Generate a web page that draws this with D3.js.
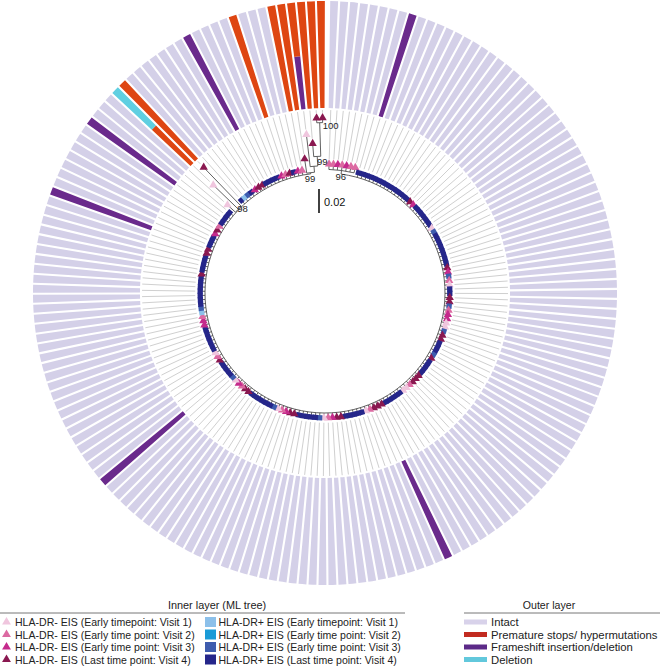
<!DOCTYPE html>
<html><head><meta charset="utf-8">
<script src="https://cdn.jsdelivr.net/npm/d3@7"></script>
<style>body{margin:0;background:#fff}svg{display:block}</style>
</head><body>
<svg id="chart" width="666" height="669"></svg>
<script>
// ---------- DATA ----------
const categoryKeys = ["a","b","c","d","e","f","g","h"];
const categoryLabels = [
  "HLA-DR- EIS (Early timepoint: Visit 1)",
  "HLA-DR- EIS (Early time point: Visit 2)",
  "HLA-DR- EIS (Early time point: Visit 3)",
  "HLA-DR- EIS (Last time point: Visit 4)",
  "HLA-DR+ EIS (Early timepoint: Visit 1)",
  "HLA-DR+ EIS (Early time point: Visit 2)",
  "HLA-DR+ EIS (Early time point: Visit 3)",
  "HLA-DR+ EIS (Last time point: Visit 4)"
];
const categoryColors = ["#f0c6de","#dc6aa2","#c52a8c","#8a1850","#8cc0ea","#1a9bd7","#3e5cae","#25268a"];
const categoryShapes = ["triangle","triangle","triangle","triangle","square","square","square","square"];

// one code per leaf, clockwise from the top
const leafTypes =
  "bbcbcbb" + "hhhhhhhhhhhhhh" + "dchhhhhhaghhhhhhhhdcgbahh" +
  "ddgbccaa" + "gddhhhg" + "dhhhhdddb" + "aahhhhhd" + "ddbahhhhh" + "ddcba" +
  "ghhhhhddcb" + "aghhhhhhdd" + "bcaghhhh" + "dbahhhhhh" + "ccbeghhhh" +
  "hhhdhhhhd" + "dhhhc" + "dbhhhh" + "aad" + "heghcddhhhhcbdhcb" + "daddd";

const statusKeys = ["I","P","F","D"];
const statusLabels = ["Intact","Premature stops/ hypermutations","Frameshift insertion/deletion","Deletion"];
const statusColors = ["#d4d0e8","#de4612","#6a2a8c","#5fcfe1"];
const statusLegendColors = ["#d8d2ea","#c22b20","#5c2a88","#62c8dc"];
// [leaf, inner-half status, outer-half status]; every other leaf is Intact
const defects = [
  [8,"F","F"],[78,"F","F"],[116,"F","F"],[147,"F","F"],[155,"F","F"],
  [159,"P","D"],[160,"P","P"],[168,"F","F"],[173,"P","P"],
  [177,"P","P"],[178,"P","P"],[179,"F","P"],[180,"P","P"],[181,"P","P"],[182,"P","P"]
];

const defaultTipLength = 0.004;
// supported clades: kids are [leaf, branchLength] or nested clades
const clades = [
  { support: "96", len: 0.003, kids: [[0,0.0045],[1,0.0045],[2,0.0045],[3,0.0045],[4,0.0045],[5,0.0045],[6,0.0045]] },
  { support: "98", len: 0.0005, kids: [[158,0.009],[159,0.029],[160,0.045]] },
  { support: "99", len: 0.001, kids: [[178,0.012],
      { support: "99", len: 0.005, kids: [[179,0.027],
          { support: "", len: 0.008, kids: [[180,0.011],
              { support: "100", len: 0.028, kids: [[181,0.004],[182,0.004]] }] }] }] }
];
const scaleBarValue = 0.02;
const scaleBarLabel = "0.02";
const innerLegendTitle = "Inner layer (ML tree)";
const outerLegendTitle = "Outer layer";

// ---------- LAYOUT ----------
const N = leafTypes.length;
const cx = 325, cy = 293;
const rBackbone = 120, ringIn = 185, ringOut = 292, ringSplit = 238;
const deg = Math.PI / 180;
const svg = d3.select("#chart");
const g = svg.append("g").attr("transform", `translate(${cx},${cy})`);

const angle = d3.scaleBand().domain(d3.range(N)).range([0.82 * deg, 360.18 * deg]).padding(0);
const bw = angle.bandwidth();
const leafAngle = i => angle(i) + bw / 2;
const lenScale = d3.scaleLinear().domain([0, scaleBarValue]).range([0, 24]);

// ---------- OUTER RING ----------
const defectMap = new Map(defects.map(d => [d[0], d]));
const ringData = [];
for (let i = 0; i < N; i++) {
  const d = defectMap.get(i);
  const inner = d ? d[1] : "I", outer = d ? d[2] : "I";
  if (inner === outer) ringData.push({ i, r0: ringIn, r1: ringOut, s: inner });
  else {
    ringData.push({ i, r0: ringIn, r1: ringSplit, s: inner });
    ringData.push({ i, r0: ringSplit, r1: ringOut, s: outer });
  }
}
const statusColor = d3.scaleOrdinal().domain(statusKeys).range(statusColors);
const ringArc = d3.arc()
  .innerRadius(d => d.r0).outerRadius(d => d.r1)
  .startAngle(d => angle(d.i)).endAngle(d => angle(d.i) + bw)
  .padAngle(0.021).padRadius(100);
g.append("g").selectAll("path").data(ringData).join("path")
  .attr("d", ringArc).attr("fill", d => statusColor(d.s));

// ---------- TREE ----------
function cladeNode(c) {
  return { support: c.support, len: c.len,
    children: c.kids.map(k => Array.isArray(k) ? { leaf: k[0], len: k[1] } : cladeNode(k)) };
}
function members(c, out) { c.kids.forEach(k => Array.isArray(k) ? out.push(k[0]) : members(k, out)); return out; }
const owner = new Map();
clades.forEach(c => { const m = members(c, []); c.first = d3.min(m); m.forEach(i => owner.set(i, c)); });
const rootChildren = [];
for (let i = 0; i < N; i++) {
  const c = owner.get(i);
  if (!c) rootChildren.push({ leaf: i, len: defaultTipLength });
  else if (c.first === i) rootChildren.push(cladeNode(c));
}
const root = d3.hierarchy({ len: 0, children: rootChildren });
root.eachBefore(d => { d.dist = d.parent ? d.parent.dist + d.data.len : 0; d.r = rBackbone + lenScale(d.dist); });
root.eachAfter(d => { d.a = d.children ? d3.mean(d.children, c => c.a) : leafAngle(d.data.leaf); });

const pr = (a, r) => d3.pointRadial(a, r);
const treePath = d3.path();
root.each(d => {
  if (d.parent) {
    const p0 = pr(d.a, d.parent.r), p1 = pr(d.a, d.r);
    treePath.moveTo(p0[0], p0[1]); treePath.lineTo(p1[0], p1[1]);
  }
  if (d.children) {
    const a0 = d3.min(d.children, c => c.a), a1 = d3.max(d.children, c => c.a);
    const s = pr(a0, d.r);
    treePath.moveTo(s[0], s[1]);
    treePath.arc(0, 0, d.r, a0 - Math.PI / 2, a1 - Math.PI / 2);
  }
});

// leader lines
const leaves = root.leaves();
g.append("g").selectAll("line").data(leaves).join("line")
  .attr("x1", d => pr(d.a, d.r + 5)[0]).attr("y1", d => pr(d.a, d.r + 5)[1])
  .attr("x2", d => pr(d.a, ringIn - 2)[0]).attr("y2", d => pr(d.a, ringIn - 2)[1])
  .attr("stroke", "#d0d0d0").attr("stroke-width", 1);

g.append("path").attr("d", treePath.toString()).attr("fill", "none")
  .attr("stroke", "#3a3a3a").attr("stroke-width", 0.8);

// tip markers
const catColor = d3.scaleOrdinal().domain(categoryKeys).range(categoryColors);
const catShape = d3.scaleOrdinal().domain(categoryKeys).range(categoryShapes);
const triSym = d3.symbol().type(d3.symbolTriangle).size(30);
const sqSym = d3.symbol().type(d3.symbolSquare).size(28);
g.append("g").selectAll("path").data(leaves).join("path")
  .attr("d", d => catShape(leafTypes[d.data.leaf]) === "triangle" ? triSym() : sqSym())
  .attr("transform", d => {
    const p = pr(d.a, d.r);
    const rot = catShape(leafTypes[d.data.leaf]) === "square" ? d.a / deg : 0;
    return `translate(${p[0]},${p[1]}) rotate(${rot})`;
  })
  .attr("fill", d => catColor(leafTypes[d.data.leaf]));

// support labels (offsets in breadth-first order of labelled nodes)
const labelOffsets = [[-6, 9], [-1, 3], [-6, 9], [3, -1], [3, 6]];
g.append("g").selectAll("text").data(root.descendants().filter(d => d.data.support))
  .join("text")
  .attr("x", (d, i) => pr(d.a, d.r)[0] + labelOffsets[i][0])
  .attr("y", (d, i) => pr(d.a, d.r)[1] + labelOffsets[i][1])
  .attr("font-family", "Liberation Sans, Arial, sans-serif").attr("font-size", 9.5)
  .attr("fill", "#222").text(d => d.data.support);

// scale bar
const sbx = -6, sby = -80;
g.append("line").attr("x1", sbx).attr("x2", sbx).attr("y1", sby).attr("y2", sby - lenScale(scaleBarValue))
  .attr("stroke", "#111").attr("stroke-width", 1.6);
g.append("text").attr("x", sbx + 5).attr("y", sby - 7)
  .attr("font-family", "Liberation Sans, Arial, sans-serif").attr("font-size", 11)
  .attr("fill", "#111").text(scaleBarLabel);

// ---------- LEGEND ----------
const font = "Liberation Sans, Arial, sans-serif";
const rowY = i => 622 + i * 12.5;
const leg = svg.append("g");
leg.append("text").attr("x", 217).attr("y", 609).attr("text-anchor", "middle")
  .attr("font-family", font).attr("font-size", 10.9).attr("fill", "#222").text(innerLegendTitle);
leg.append("line").attr("x1", 0).attr("x2", 405).attr("y1", 613).attr("y2", 613).attr("stroke", "#777");
leg.append("text").attr("x", 549).attr("y", 609).attr("text-anchor", "middle")
  .attr("font-family", font).attr("font-size", 10.6).attr("fill", "#222").text(outerLegendTitle);
leg.append("line").attr("x1", 464).attr("x2", 660).attr("y1", 613).attr("y2", 613).attr("stroke", "#777");

const legTri = d3.symbol().type(d3.symbolTriangle).size(34);
categoryKeys.forEach((k, idx) => {
  const col = idx < 4 ? 0 : 1, row = idx % 4;
  const y = rowY(row);
  if (col === 0) {
    leg.append("path").attr("d", legTri()).attr("transform", `translate(6.5,${y})`).attr("fill", categoryColors[idx]);
    leg.append("text").attr("x", 15).attr("y", y + 4).attr("font-family", font).attr("font-size", 10.55)
      .attr("fill", "#222").text(categoryLabels[idx]);
  } else {
    leg.append("rect").attr("x", 205).attr("y", y - 5).attr("width", 11).attr("height", 10).attr("fill", categoryColors[idx]);
    leg.append("text").attr("x", 218.5).attr("y", y + 4).attr("font-family", font).attr("font-size", 10.55)
      .attr("fill", "#222").text(categoryLabels[idx]);
  }
});
statusLabels.forEach((lab, i) => {
  const y = rowY(i);
  leg.append("rect").attr("x", 464).attr("y", y - 2.5).attr("width", 23).attr("height", 5).attr("fill", statusLegendColors[i]);
  leg.append("text").attr("x", 491).attr("y", y + 4).attr("font-family", font).attr("font-size", 11.3)
    .attr("fill", "#222").text(lab);
});
</script>
</body></html>
